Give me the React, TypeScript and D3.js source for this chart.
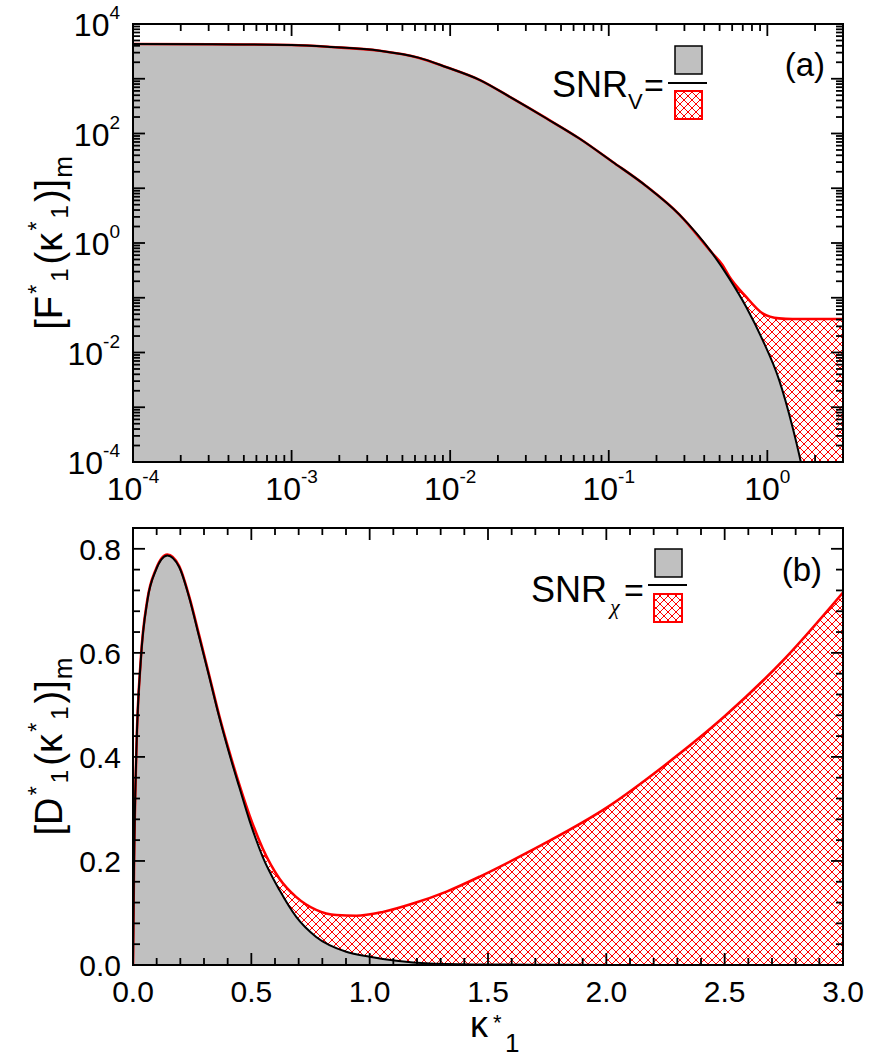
import React from "react";
import * as d3 from "d3";

const W = 869;
const H = 1059;
const FONT = "'Liberation Sans', Arial, Helvetica, sans-serif";

// ---------- Panel (a): [F*1(k*1)]m, log-log ----------
const fX = [1e-4, 3.16e-4, 1e-3, 1.78e-3, 3.6e-3, 6.3e-3, 9.4e-3, 0.0153, 0.0247, 0.0403, 0.0653, 0.1054, 0.172, 0.279, 0.45, 0.575, 0.733, 0.933, 1.186, 1.44, 1.626, 1.9];
const fY = [4300, 4270, 4130, 3800, 3240, 2430, 1640, 955, 437, 190, 81, 30.5, 11, 3.3, 0.646, 0.226, 0.0692, 0.017, 0.00316, 0.00044, 0.0001, 0.00001];
const fNoiseX = [1e-4, 3.16e-4, 1e-3, 1.78e-3, 3.6e-3, 6.3e-3, 9.4e-3, 0.0153, 0.0247, 0.0403, 0.0653, 0.1054, 0.172, 0.279, 0.45, 0.52, 0.575, 0.733, 0.933, 1.186, 1.44, 3.0];
const fNoiseY = [4300, 4270, 4130, 3800, 3240, 2430, 1640, 955, 437, 190, 81, 30.5, 11, 3.3, 0.65, 0.40, 0.245, 0.105, 0.052, 0.042, 0.0408, 0.0408];
const aXTickExps = [-4, -3, -2, -1, 0];
const aYTickExps = [-4, -2, 0, 2, 4];

// ---------- Panel (b): [D*1(k*1)]m, linear ----------
const dX = [0, 0.004, 0.014, 0.033, 0.061, 0.096, 0.145, 0.195, 0.237, 0.28, 0.322, 0.364, 0.407, 0.449, 0.492, 0.548, 0.619, 0.689, 0.774, 0.901, 1.0, 1.113, 1.254, 1.5, 1.8, 2.2, 2.6, 3.0];
const dY = [0, 0.18, 0.407, 0.586, 0.701, 0.758, 0.787, 0.765, 0.707, 0.63, 0.554, 0.477, 0.406, 0.342, 0.278, 0.208, 0.144, 0.093, 0.054, 0.0255, 0.016, 0.008, 0.003, 0.001, 0.0003, 0, 0, 0];
const dNoiseX = [0, 0.004, 0.014, 0.033, 0.061, 0.096, 0.145, 0.195, 0.237, 0.28, 0.322, 0.364, 0.407, 0.449, 0.492, 0.548, 0.619, 0.689, 0.774, 0.859, 0.943, 1.056, 1.183, 1.325, 1.466, 1.607, 1.749, 2.0, 2.25, 2.5, 2.75, 3.0];
const dNoiseY = [0, 0.18, 0.407, 0.588, 0.703, 0.76, 0.789, 0.767, 0.709, 0.633, 0.557, 0.48, 0.41, 0.347, 0.288, 0.224, 0.166, 0.131, 0.106, 0.096, 0.0947, 0.102, 0.118, 0.141, 0.17, 0.202, 0.236, 0.302, 0.385, 0.478, 0.587, 0.716];
const bXTicks = [0, 0.5, 1.0, 1.5, 2.0, 2.5, 3.0];
const bYTicks = [0, 0.2, 0.4, 0.6, 0.8];

const A = { left: 133, right: 843, top: 24, bottom: 462 };
const B = { left: 133, right: 843, top: 528, bottom: 965 };

type P = { x: number; y: number };
const zip = (xs: number[], ys: number[]): P[] => xs.map((x, i) => ({ x, y: ys[i] }));

function logTicks(lo: number, hi: number) {
  const out: { v: number; major: boolean }[] = [];
  const k0 = Math.floor(Math.log10(lo));
  const k1 = Math.ceil(Math.log10(hi));
  for (let k = k0; k <= k1; k++) {
    for (let m = 1; m <= 9; m++) {
      const v = m * Math.pow(10, k);
      if (v >= lo * 0.9999 && v <= hi * 1.0001) out.push({ v, major: m === 1 });
    }
  }
  return out;
}

function linTicks(lo: number, hi: number, step: number, majorEvery: number) {
  const out: { v: number; major: boolean }[] = [];
  const n = Math.round((hi - lo) / step);
  for (let i = 0; i <= n; i++) {
    const v = lo + i * step;
    out.push({ v, major: i % majorEvery === 0 });
  }
  return out;
}

const TICK_MAJ = 12;
const TICK_MIN = 7;
const TW = 1.8;

function Ticks({ box, xt, yt, xs, ys }: any) {
  const els: any[] = [];
  xt.forEach((t: any, i: number) => {
    const x = xs(t.v);
    const L = t.major ? TICK_MAJ : TICK_MIN;
    els.push(<line key={"xb" + i} x1={x} x2={x} y1={box.bottom} y2={box.bottom - L} stroke="#000" strokeWidth={TW} />);
    els.push(<line key={"xt" + i} x1={x} x2={x} y1={box.top} y2={box.top + L} stroke="#000" strokeWidth={TW} />);
  });
  yt.forEach((t: any, i: number) => {
    const y = ys(t.v);
    const L = t.major ? TICK_MAJ : TICK_MIN;
    els.push(<line key={"yl" + i} x1={box.left} x2={box.left + L} y1={y} y2={y} stroke="#000" strokeWidth={TW} />);
    els.push(<line key={"yr" + i} x1={box.right} x2={box.right - L} y1={y} y2={y} stroke="#000" strokeWidth={TW} />);
  });
  return <g>{els}</g>;
}

function YTitle({ letter, cx, cy }: { letter: string; cx: number; cy: number }) {
  return (
    <text transform={`translate(${cx}, ${cy}) rotate(-90)`} fontSize={38} textAnchor="middle">
      [{letter}<tspan fontSize={24} dy={-17} dx={2}>*</tspan>
      <tspan fontSize={24} dy={23} dx={3}>1</tspan>
      <tspan dy={-6} dx={4}>(κ</tspan>
      <tspan fontSize={24} dy={-17} dx={2}>*</tspan>
      <tspan fontSize={24} dy={23} dx={3}>1</tspan>
      <tspan dy={-6} dx={3}>)]</tspan>
      <tspan fontSize={26} dy={10} dx={1}>m</tspan>
    </text>
  );
}

export default function App() {
  const xa = d3.scaleLog().domain([1e-4, 3]).range([A.left, A.right]);
  const ya = d3.scaleLog().domain([1e-4, 1e4]).range([A.bottom, A.top]);
  const xb = d3.scaleLinear().domain([0, 3]).range([B.left, B.right]);
  const yb = d3.scaleLinear().domain([0, 0.84]).range([B.bottom, B.top]);

  const fData = zip(fX, fY);
  const fnData = zip(fNoiseX, fNoiseY);
  const dData = zip(dX, dY);
  const dnData = zip(dNoiseX, dNoiseY);

  const lineA = d3.line<P>().x((d) => xa(d.x)).y((d) => ya(d.y)).curve(d3.curveMonotoneX);
  const areaA = d3.area<P>().x((d) => xa(d.x)).y0(A.bottom + 5).y1((d) => ya(d.y)).curve(d3.curveMonotoneX);
  const lineB = d3.line<P>().x((d) => xb(d.x)).y((d) => yb(d.y)).curve(d3.curveMonotoneX);
  const areaB = d3.area<P>().x((d) => xb(d.x)).y0(B.bottom).y1((d) => yb(d.y)).curve(d3.curveMonotoneX);

  const aXt = logTicks(1e-4, 3);
  const aYt = logTicks(1e-4, 1e4);
  const bXt = linTicks(0, 3, 0.1, 5);
  const bYt = linTicks(0, 0.84, 0.04, 5);

  return (
    <svg width={W} height={H} style={{ position: "absolute", left: 0, top: 0, background: "#fff" }} fontFamily={FONT}>
      <defs>
        <pattern id="hatch" patternUnits="userSpaceOnUse" width={8} height={8}>
          <rect width={8} height={8} fill="#fff" />
          <path d="M-1,-1 L9,9 M9,-1 L-1,9" stroke="#ff0000" strokeWidth={1} />
        </pattern>
        <clipPath id="clipA">
          <rect x={A.left} y={A.top} width={A.right - A.left} height={A.bottom - A.top} />
        </clipPath>
        <clipPath id="clipB">
          <rect x={B.left} y={B.top} width={B.right - B.left} height={B.bottom - B.top} />
        </clipPath>
      </defs>
      <rect width={W} height={H} fill="#fff" />

      {/* Panel (a) */}
      <g clipPath="url(#clipA)">
        <path d={areaA(fnData) || ""} fill="url(#hatch)" />
        <path d={areaA(fData) || ""} fill="#c0c0c0" />
        <path d={lineA(fnData) || ""} fill="none" stroke="#ff0000" strokeWidth={2.6} />
        <path d={lineA(fData) || ""} fill="none" stroke="#000" strokeWidth={2} />
      </g>
      <Ticks box={A} xt={aXt} yt={aYt} xs={xa} ys={ya} />
      <rect x={A.left} y={A.top} width={A.right - A.left} height={A.bottom - A.top} fill="none" stroke="#000" strokeWidth={2} />
      {aYTickExps.map((e) => (
        <text key={"ay" + e} x={120} y={ya(Math.pow(10, e)) + 12} fontSize={32} textAnchor="end">
          10<tspan fontSize={19} dy={-17}>{e < 0 ? "-" + -e : String(e)}</tspan>
        </text>
      ))}
      {aXTickExps.map((e) => (
        <text key={"ax" + e} x={xa(Math.pow(10, e))} y={A.bottom + 38} fontSize={32} textAnchor="middle">
          10<tspan fontSize={19} dy={-17}>{e < 0 ? "-" + -e : String(e)}</tspan>
        </text>
      ))}
      <YTitle letter="F" cx={62} cy={(A.top + A.bottom) / 2} />
      <text x={825} y={76} fontSize={33} textAnchor="end">(a)</text>
      {/* legend (a) */}
      <text x={552} y={97} fontSize={36}>SNR</text>
      <text x={628} y={109} fontSize={22}>V</text>
      <text x={644} y={97} fontSize={34}>=</text>
      <rect x={675} y={46} width={27} height={28} fill="#c0c0c0" stroke="#000" strokeWidth={1.5} />
      <line x1={668} x2={707} y1={83} y2={83} stroke="#000" strokeWidth={2} />
      <rect x={675} y={91} width={27} height={28} fill="url(#hatch)" stroke="#ff0000" strokeWidth={2} />

      {/* Panel (b) */}
      <g clipPath="url(#clipB)">
        <path d={areaB(dnData) || ""} fill="url(#hatch)" />
        <path d={areaB(dData) || ""} fill="#c0c0c0" />
        <path d={lineB(dnData) || ""} fill="none" stroke="#ff0000" strokeWidth={2.6} />
        <path d={lineB(dData) || ""} fill="none" stroke="#000" strokeWidth={2} />
      </g>
      <Ticks box={B} xt={bXt} yt={bYt} xs={xb} ys={yb} />
      <rect x={B.left} y={B.top} width={B.right - B.left} height={B.bottom - B.top} fill="none" stroke="#000" strokeWidth={2} />
      {bYTicks.map((v) => (
        <text key={"by" + v} x={121} y={yb(v) + 11} fontSize={30} textAnchor="end">{v.toFixed(1)}</text>
      ))}
      {bXTicks.map((v) => (
        <text key={"bx" + v} x={xb(v)} y={B.bottom + 37} fontSize={30} textAnchor="middle">{v.toFixed(1)}</text>
      ))}
      <YTitle letter="D" cx={62} cy={(B.top + B.bottom) / 2} />
      <text x={470} y={1037} fontSize={36}>κ</text>
      <text x={493} y={1030} fontSize={22}>*</text>
      <text x={505} y={1052} fontSize={26}>1</text>
      <text x={822} y={581} fontSize={33} textAnchor="end">(b)</text>
      {/* legend (b) */}
      <text x={531} y={602} fontSize={36}>SNR</text>
      <text x={610} y={614} fontSize={22} fontStyle="italic" fontFamily="'Liberation Serif', 'Times New Roman', serif">χ</text>
      <text x={624} y={602} fontSize={34}>=</text>
      <rect x={655} y={549} width={27} height={28} fill="#c0c0c0" stroke="#000" strokeWidth={1.5} />
      <line x1={648} x2={687} y1={585} y2={585} stroke="#000" strokeWidth={2} />
      <rect x={654} y={594} width={28} height={28} fill="url(#hatch)" stroke="#ff0000" strokeWidth={2} />
    </svg>
  );
}
